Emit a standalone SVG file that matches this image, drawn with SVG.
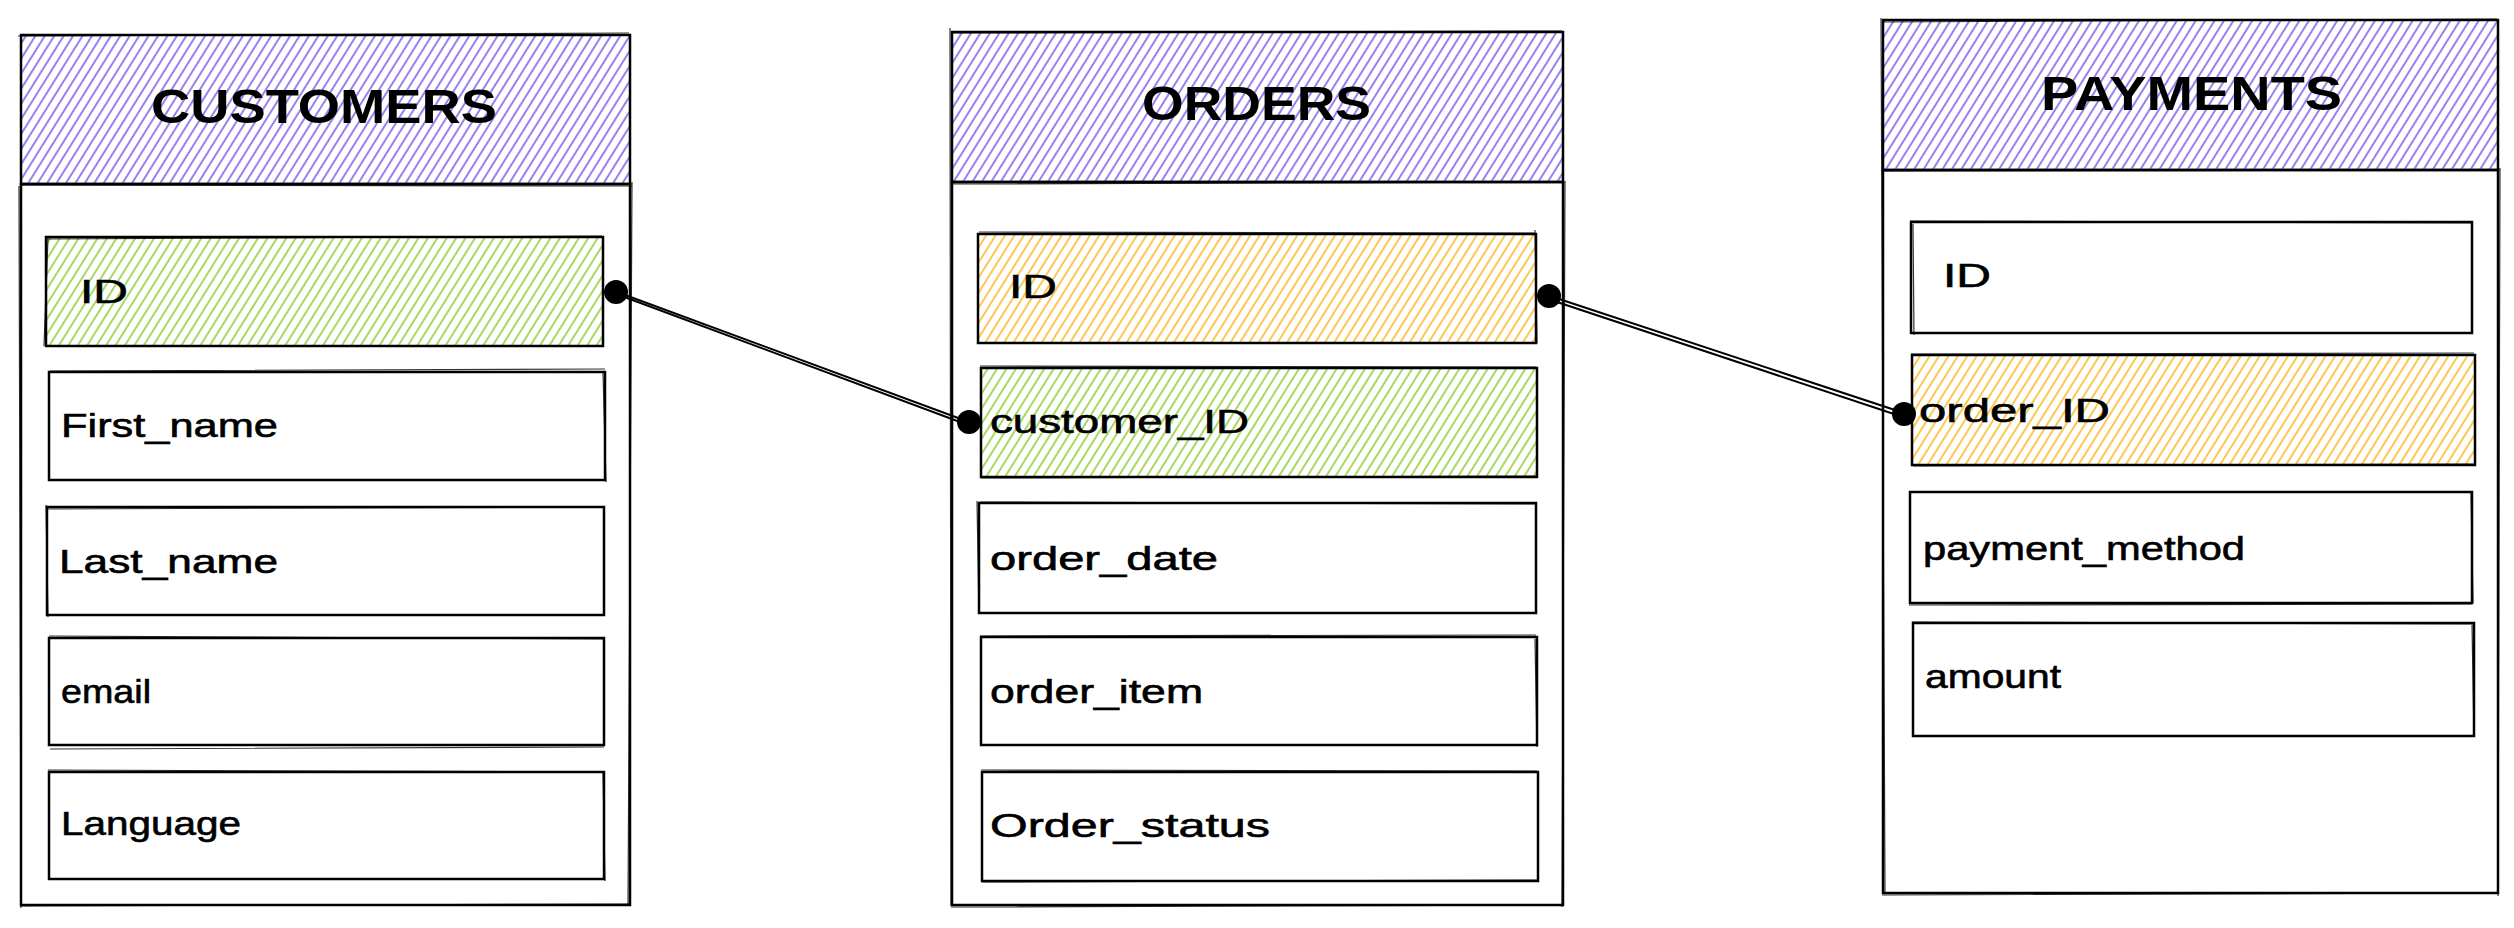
<svg xmlns="http://www.w3.org/2000/svg" width="2514" height="928" viewBox="0 0 2514 928">
<defs>
<pattern id="hPurple" patternUnits="userSpaceOnUse" width="8" height="16" patternTransform="rotate(32)">
<line x1="1" y1="0" x2="1" y2="16" stroke="#7048e8" stroke-width="1.4"/>
</pattern>
<pattern id="hGreen" patternUnits="userSpaceOnUse" width="8" height="16" patternTransform="rotate(32)">
<line x1="1" y1="0" x2="1" y2="16" stroke="#82c91e" stroke-width="1.4"/>
</pattern>
<pattern id="hOrange" patternUnits="userSpaceOnUse" width="8" height="16" patternTransform="rotate(32)">
<line x1="1" y1="0" x2="1" y2="16" stroke="#fab005" stroke-width="1.4"/>
</pattern>
</defs>
<style>
.box{fill:#ffffff;stroke:#000000;stroke-width:2.5}
.sk{fill:none;stroke:#000000;stroke-width:1.2;opacity:0.8}
.hp{fill:url(#hPurple);stroke:#000000;stroke-width:2.5}
.hg{fill:url(#hGreen);stroke:#000000;stroke-width:2.5}
.ho{fill:url(#hOrange);stroke:#000000;stroke-width:2.5}
.title{font-family:"Liberation Sans",Arial,sans-serif;font-size:48px;font-weight:bold;fill:#000000}
.field{font-family:"Liberation Sans",Arial,sans-serif;font-size:33px;fill:#000000;stroke:#000000;stroke-width:0.6}
.conn{fill:none;stroke:#000000;stroke-width:2}
.dot{fill:#000000}
</style>
<rect width="2514" height="928" fill="#ffffff"/>

<g id="customers">
<rect class="box" x="21" y="184" width="609" height="721"/>
<path class="sk" d="M19 186 L21 908 M632 182 L628 906 M20 906 L631 904"/>
<rect class="hp" x="21" y="35" width="609" height="149"/>
<path class="sk" d="M18 36 L629 33 M20 185 L632 186"/>
<text class="title" x="151" y="123" textLength="346" lengthAdjust="spacingAndGlyphs">CUSTOMERS</text>
<g id="customers-id">
<rect class="hg" x="46" y="237" width="557" height="109"/>
<path class="sk" d="M44 346 L48 238 M46 239 L602 236"/>
<text class="field" x="80" y="303" textLength="48" lengthAdjust="spacingAndGlyphs">ID</text>
</g>
<g id="customers-first-name">
<rect class="box" x="49" y="372" width="556" height="108"/>
<path class="sk" d="M50 371 L605 369 M603 372 L606 482"/>
<text class="field" x="61" y="437" textLength="217" lengthAdjust="spacingAndGlyphs">First_name</text>
</g>
<g id="customers-last-name">
<rect class="box" x="47" y="507" width="557" height="108"/>
<path class="sk" d="M46 505 L48 617 M47 509 L604 507"/>
<text class="field" x="59" y="573" textLength="219" lengthAdjust="spacingAndGlyphs">Last_name</text>
</g>
<g id="customers-email">
<rect class="box" x="49" y="638" width="555" height="107"/>
<path class="sk" d="M50 749 L604 747 M49 636 L604 639"/>
<text class="field" x="61" y="703" textLength="90" lengthAdjust="spacingAndGlyphs">email</text>
</g>
<g id="customers-language">
<rect class="box" x="49" y="772" width="555" height="107"/>
<path class="sk" d="M48 770 L603 772 M603 773 L605 881"/>
<text class="field" x="61" y="835" textLength="180" lengthAdjust="spacingAndGlyphs">Language</text>
</g>
</g>

<g id="orders">
<rect class="box" x="952" y="182" width="611" height="723"/>
<path class="sk" d="M950 28 L951 906 M1565 181 L1562 907 M951 907 L1564 905"/>
<rect class="hp" x="952" y="32" width="611" height="150"/>
<path class="sk" d="M951 33 L1562 31 M951 184 L1563 182"/>
<text class="title" x="1142" y="120" textLength="229" lengthAdjust="spacingAndGlyphs">ORDERS</text>
<g id="orders-id">
<rect class="ho" x="978" y="234" width="558" height="109"/>
<path class="sk" d="M979 232 L1535 233 M1535 230 L1537 343"/>
<text class="field" x="1009" y="298" textLength="48" lengthAdjust="spacingAndGlyphs">ID</text>
</g>
<g id="orders-customer-id">
<rect class="hg" x="981" y="368" width="556" height="109"/>
<path class="sk" d="M980 366 L1536 367 M981 478 L1536 476"/>
<text class="field" x="990" y="433" textLength="259" lengthAdjust="spacingAndGlyphs">customer_ID</text>
</g>
<g id="orders-order-date">
<rect class="box" x="979" y="503" width="557" height="110"/>
<path class="sk" d="M977 501 L979 614 M980 502 L1535 504"/>
<text class="field" x="990" y="570" textLength="228" lengthAdjust="spacingAndGlyphs">order_date</text>
</g>
<g id="orders-order-item">
<rect class="box" x="981" y="637" width="556" height="108"/>
<path class="sk" d="M980 636 L1536 635 M1535 639 L1537 747"/>
<text class="field" x="990" y="703" textLength="213" lengthAdjust="spacingAndGlyphs">order_item</text>
</g>
<g id="orders-order-status">
<rect class="box" x="982" y="772" width="556" height="109"/>
<path class="sk" d="M981 770 L1537 771 M982 882 L1538 880"/>
<text class="field" x="990" y="837" textLength="280" lengthAdjust="spacingAndGlyphs">Order_status</text>
</g>
</g>

<g id="payments">
<rect class="box" x="1883" y="170" width="615" height="723"/>
<path class="sk" d="M1881 18 L1885 894 M2500 168 L2498 896 M1882 895 L2497 893"/>
<rect class="hp" x="1883" y="20" width="615" height="150"/>
<path class="sk" d="M1882 22 L2497 19 M1882 171 L2499 170"/>
<text class="title" x="2041" y="110" textLength="301" lengthAdjust="spacingAndGlyphs">PAYMENTS</text>
<g id="payments-id">
<rect class="box" x="1911" y="222" width="561" height="111"/>
<path class="sk" d="M1910 221 L2471 223 M1913 224 L1914 335"/>
<text class="field" x="1943" y="287" textLength="48" lengthAdjust="spacingAndGlyphs">ID</text>
</g>
<g id="payments-order-id">
<rect class="ho" x="1912" y="355" width="563" height="110"/>
<path class="sk" d="M1911 354 L2474 353 M1913 466 L2475 464"/>
<text class="field" x="1919" y="422" textLength="191" lengthAdjust="spacingAndGlyphs">order_ID</text>
</g>
<g id="payments-payment-method">
<rect class="box" x="1910" y="492" width="562" height="111"/>
<path class="sk" d="M1909 605 L2472 604 M2471 493 L2473 603"/>
<text class="field" x="1923" y="560" textLength="322" lengthAdjust="spacingAndGlyphs">payment_method</text>
</g>
<g id="payments-amount">
<rect class="box" x="1913" y="623" width="561" height="113"/>
<path class="sk" d="M1912 622 L2473 624 M2472 625 L2474 737"/>
<text class="field" x="1925" y="688" textLength="136" lengthAdjust="spacingAndGlyphs">amount</text>
</g>
</g>

<g id="connectors">
<path class="conn" d="M617 292 L969 422"/>
<path class="conn" d="M619 295 L968 425"/>
<circle class="dot" cx="616" cy="292" r="12"/>
<circle class="dot" cx="969" cy="422" r="12"/>
<path class="conn" d="M1550 296 L1904 413"/>
<path class="conn" d="M1551 300 L1903 417"/>
<circle class="dot" cx="1549" cy="296" r="12"/>
<circle class="dot" cx="1904" cy="414" r="12"/>
</g>
</svg>
